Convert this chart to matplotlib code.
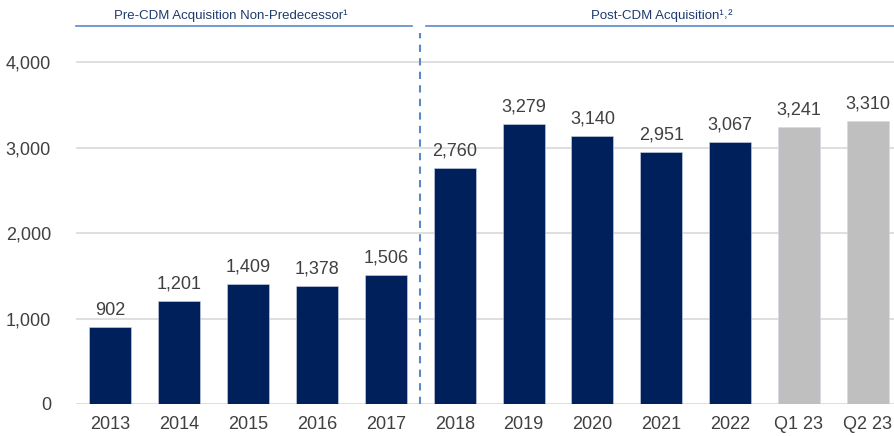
import matplotlib.pyplot as plt
import numpy as np

plt.rcParams['font.family'] = ['Liberation Sans', 'DejaVu Sans']

# datos
labels = ['2013', '2014', '2015', '2016', '2017', '2018', '2019', '2020',
          '2021', '2022', 'Q1 23', 'Q2 23']
values = [902, 1201, 1409, 1378, 1506, 2760, 3279, 3140, 2951, 3067, 3241, 3310]
is_quarter = [False] * 10 + [True] * 2

navy = '#00205b'
gray = '#bfbfbf'
line_blue = '#5a8ac6'
text_blue = '#1f3a6e'

fig = plt.figure(figsize=(8.94, 4.36), dpi=100)
ax = fig.add_axes([0.085, 0.0734, 0.915, 0.8666])

x = np.arange(len(labels))
colors = [gray if q else navy for q in is_quarter]
ax.bar(x, values, width=0.61, color=colors, edgecolor='#d0d8e8', linewidth=0.4, zorder=3)

for xi, v in zip(x, values):
    ax.annotate(f'{v:,}', (xi, v), xytext=(0, 6), textcoords='offset points',
                ha='center', va='bottom', fontsize=13, color='#404040')

ax.set_xlim(-0.5, 11.38)
ax.set_ylim(0, 4420)
ax.set_yticks([0, 1000, 2000, 3000, 4000])
ax.set_yticklabels(['0', '1,000', '2,000', '3,000', '4,000'])
ax.set_xticks(x)
ax.set_xticklabels(labels)
ax.tick_params(axis='both', length=0, labelsize=13, labelcolor='#404040')
ax.tick_params(axis='y', pad=18)
ax.tick_params(axis='x', pad=9)
ax.grid(axis='y', color='#d9d9d9', linewidth=1.2, zorder=0)
for s in ax.spines.values():
    s.set_visible(False)

# separador punteado
ax.plot([4.5, 4.5], [0, 4340], color=line_blue, linestyle=(0, (3.5, 3)),
        linewidth=1.5, clip_on=False, zorder=4)

# lineas de encabezado
ax.plot([-0.5, 4.38], [4420, 4420], color=line_blue, linewidth=1.2, clip_on=False)
ax.plot([4.59, 11.38], [4420, 4420], color=line_blue, linewidth=1.2, clip_on=False)
ax.text(1.75, 4470, 'Pre-CDM Acquisition Non-Predecessor¹', ha='center', va='bottom',
        fontsize=9.5, color=text_blue)
ax.text(8.0, 4470, 'Post-CDM Acquisition¹˒²', ha='center', va='bottom',
        fontsize=9.5, color=text_blue)

plt.savefig('out.png', dpi=100)
